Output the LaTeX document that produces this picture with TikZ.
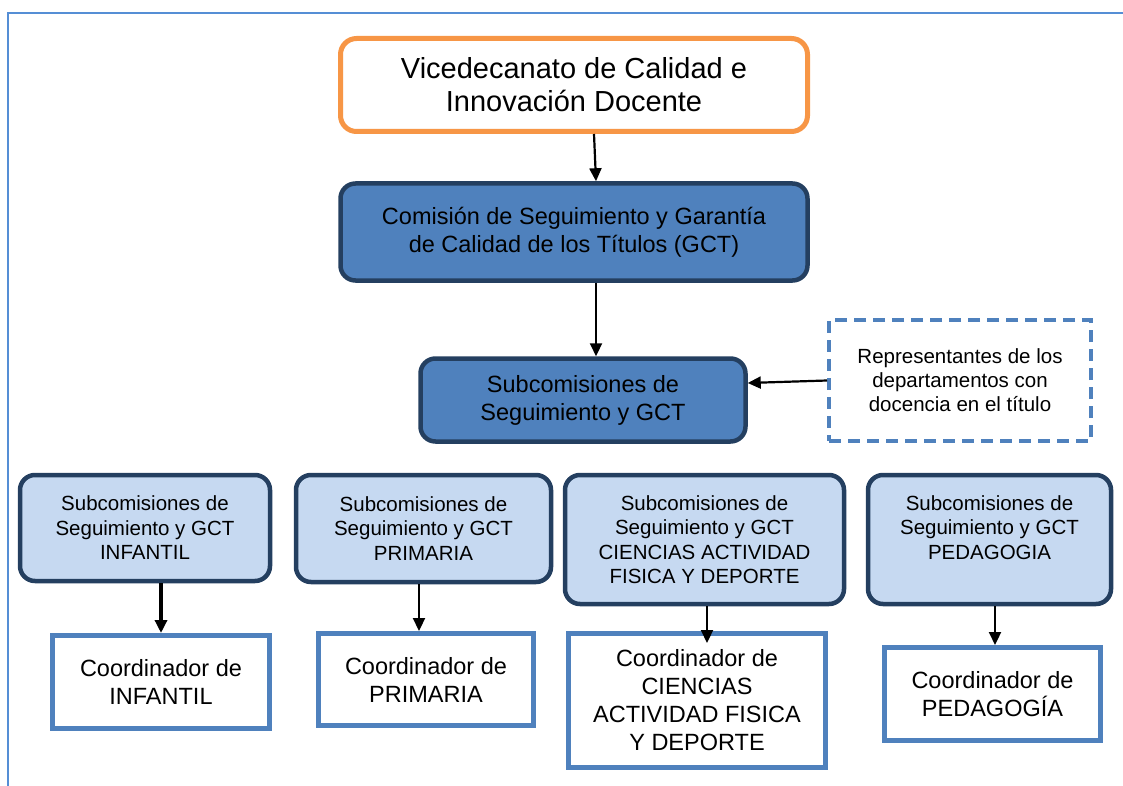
\documentclass[tikz,border=0pt]{standalone}
\usepackage{fontspec}
\setmainfont{Liberation Sans}
\usetikzlibrary{arrows.meta}
\definecolor{frameblue}{HTML}{558ED5}
\definecolor{orangeb}{HTML}{F79646}
\definecolor{navy}{HTML}{243F60}
\definecolor{midblue}{HTML}{4F81BD}
\definecolor{lightblue}{HTML}{C6D9F1}
\tikzset{
  vicebox/.style={draw=orangeb, line width=5pt, rounded corners=16pt, fill=white, align=center, inner sep=0pt,
    font=\fontsize{29}{33}\selectfont},
  darkbox/.style={draw=navy, line width=4.5pt, rounded corners=15pt, fill=midblue, align=center, inner sep=0pt,
    font=\fontsize{23.5}{28}\selectfont},
  lightbox/.style={draw=navy, line width=4.5pt, rounded corners=15pt, fill=lightblue, align=center, inner sep=0pt,
    font=\fontsize{20.5}{24.5}\selectfont},
  coordbox/.style={draw=midblue, line width=5pt, fill=white, align=center, inner sep=0pt,
    font=\fontsize{23.5}{28}\selectfont},
  dashbox/.style={draw=midblue, line width=4pt, dash pattern=on 12pt off 7pt, fill=white, align=center, inner sep=0pt,
    font=\fontsize{20.5}{24}\selectfont},
  arr/.style={line width=2.2pt, -{Triangle[width=12pt,length=13pt]}},
  arrthick/.style={line width=3.5pt, -{Triangle[width=12pt,length=13pt]}}
}
\begin{document}
\begin{tikzpicture}[x=1pt,y=-1pt]
\useasboundingbox (0,0) rectangle (1123,786);
\draw[frameblue, line width=2pt] (8,786) -- (8,13) -- (1123,13);

\node[vicebox, minimum width=467pt, minimum height=93pt] (vice) at (574,85)
  {Vicedecanato de Calidad e\\Innovación Docente};
\node[darkbox, minimum width=467pt, minimum height=97pt] (com) at (574,232)
  {Comisión de Seguimiento y Garantía\\de Calidad de los Títulos (GCT)};
\node[darkbox, minimum width=325pt, minimum height=83pt] (sub) at (583,400)
  {Subcomisiones de\\Seguimiento y GCT};
\node[dashbox, minimum width=262pt, minimum height=121pt] (dsh) at (960,380.5)
  {Representantes de los\\departamentos con\\docencia en el título};

\node[lightbox, minimum width=250pt, minimum height=106pt] (inf) at (145,528)
  {Subcomisiones de\\Seguimiento y GCT\\INFANTIL};
\node[lightbox, minimum width=255pt, minimum height=107pt] (pri) at (423.5,528.5)
  {Subcomisiones de\\Seguimiento y GCT\\PRIMARIA};
\node[lightbox, minimum width=279pt, minimum height=129pt] (cie) at (704.5,539.5)
  {Subcomisiones de\\Seguimiento y GCT\\CIENCIAS ACTIVIDAD\\FISICA Y DEPORTE};
\node[lightbox, minimum width=243pt, minimum height=129pt] (ped) at (989.5,539.5)
  {Subcomisiones de\\Seguimiento y GCT\\PEDAGOGIA\\\mbox{}};

\node[coordbox, minimum width=217pt, minimum height=93pt] (cinf) at (161,682)
  {Coordinador de\\INFANTIL};
\node[coordbox, minimum width=215pt, minimum height=92pt] (cpri) at (426,679.5)
  {Coordinador de\\PRIMARIA};
\node[coordbox, minimum width=257pt, minimum height=134pt] (ccie) at (697,700.5)
  {Coordinador de\\CIENCIAS\\ACTIVIDAD FISICA\\Y DEPORTE};
\node[coordbox, minimum width=216pt, minimum height=93pt] (cped) at (992.5,694)
  {Coordinador de\\PEDAGOGÍA};

\draw[arr] ([xshift=20pt]vice.south) -- ([xshift=22pt]com.north);
\draw[arr] ([xshift=22pt]com.south) -- ([xshift=13pt]sub.north);
\draw[arr] (dsh.west) -- ([yshift=17pt]sub.east);

\draw[arrthick] ([xshift=16pt]inf.south) -- (cinf.north);
\draw[arr] ([xshift=-4.5pt]pri.south) coordinate (tp) -- (tp |- cpri.north);
\draw[arr, shorten >=-12pt] ([xshift=2.5pt]cie.south) coordinate (tc) -- (tc |- ccie.north);
\draw[arr] ([xshift=5.5pt]ped.south) coordinate (td) -- (td |- cped.north);
\end{tikzpicture}
\end{document}
